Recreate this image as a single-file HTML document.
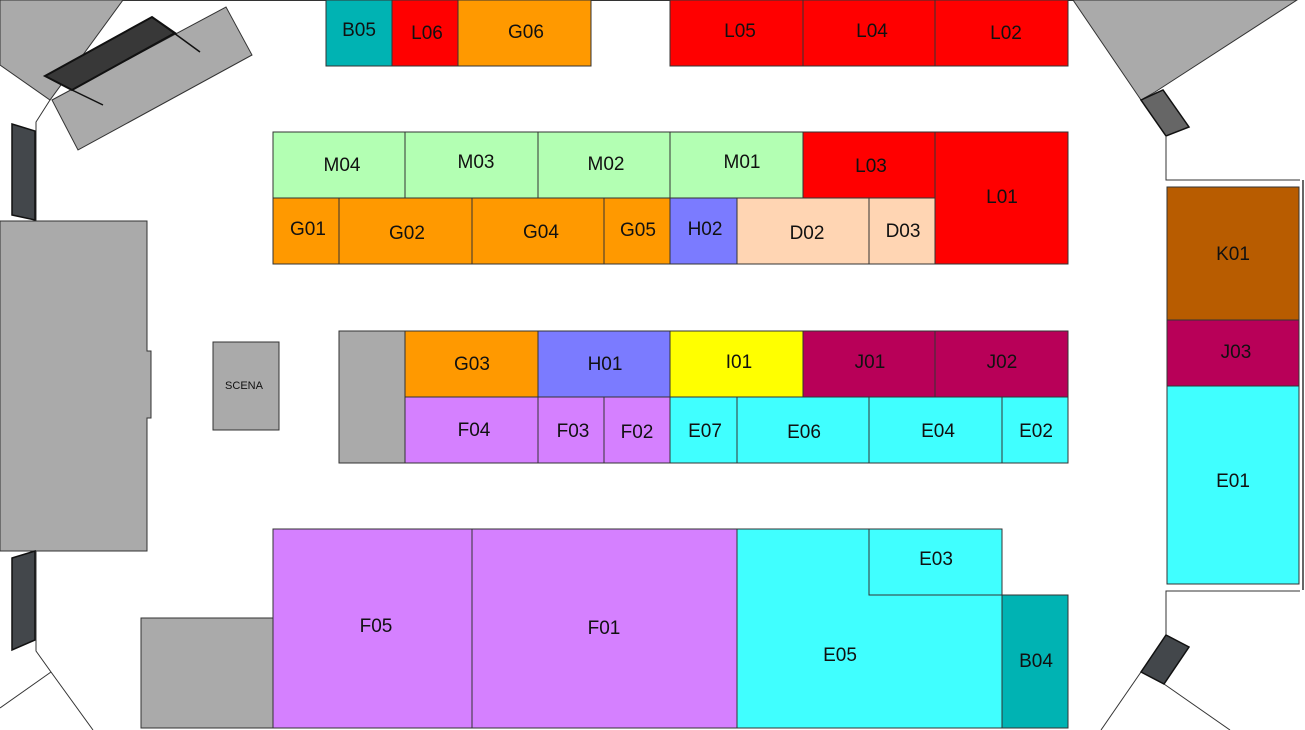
<!DOCTYPE html>
<html><head><meta charset="utf-8"><style>
html,body{margin:0;padding:0;background:#fff;}
svg{display:block;}
text{font-family:"Liberation Sans",sans-serif;font-size:19px;fill:#111;text-anchor:middle;dominant-baseline:middle;}
</style></head><body>
<svg width="1305" height="730" viewBox="0 0 1305 730" xmlns="http://www.w3.org/2000/svg">
<g stroke="#333" stroke-width="1">
<line x1="122" y1="0.5" x2="1073" y2="0.5"/>
<polygon points="0,0 123,0 50,100 0,65" fill="#aaa"/>
<polygon points="52,100 226,7 252,55 78,150" fill="#aaa"/>
<polygon points="45,76 152,17 175,33 72,90" fill="#383838" stroke="#111" stroke-width="2"/>
<line x1="152" y1="17" x2="200" y2="52" stroke="#111" stroke-width="1.5"/>
<line x1="72" y1="90" x2="103" y2="105" stroke="#111" stroke-width="1.5"/>
<polyline points="50,100 36,122 36,221" fill="none"/>
<polygon points="12,124 35,131 35,220 12,215" fill="#43474b" stroke="#111" stroke-width="1.5"/>
<polygon points="0,221 147,221 147,351 151,351 151,418 147,418 147,551 0,551" fill="#aaa"/>
<polygon points="12,558 35,551 35,640 12,650" fill="#43474b" stroke="#111" stroke-width="1.5"/>
<polyline points="36,551 36,651 51,672 93,730" fill="none"/>
<line x1="51" y1="672" x2="0" y2="708"/>
<rect x="213" y="342" width="66" height="88" fill="#aaa"/>
<polygon points="1073,0 1297,0 1155,92 1141,100" fill="#aaa"/>
<polygon points="1141,100 1163,90 1189,127 1166,136" fill="#666" stroke="#111" stroke-width="1.5"/>
<polyline points="1166,136 1166,180 1300,180" fill="none"/>
<line x1="1303" y1="180" x2="1303" y2="590" stroke-width="1.5"/>
<polyline points="1300,591 1166,591 1166,635" fill="none"/>
<polygon points="1166,635 1189,647 1164,684 1141,672" fill="#43474b" stroke="#111" stroke-width="1.5"/>
<line x1="1141" y1="672" x2="1101" y2="730"/>
<line x1="1164" y1="684" x2="1230" y2="730"/>

<rect x="326" y="0" width="66" height="66" fill="#00b3b3"/>
<rect x="392" y="0" width="66" height="66" fill="#ff0000"/>
<rect x="458" y="0" width="133" height="66" fill="#ff9900"/>
<rect x="670" y="0" width="133" height="66" fill="#ff0000"/>
<rect x="803" y="0" width="132" height="66" fill="#ff0000"/>
<rect x="935" y="0" width="133" height="66" fill="#ff0000"/>

<rect x="273" y="132" width="132" height="66" fill="#b3ffb3"/>
<rect x="405" y="132" width="133" height="66" fill="#b3ffb3"/>
<rect x="538" y="132" width="132" height="66" fill="#b3ffb3"/>
<rect x="670" y="132" width="133" height="66" fill="#b3ffb3"/>
<rect x="803" y="132" width="132" height="66" fill="#ff0000"/>
<rect x="935" y="132" width="133" height="132" fill="#ff0000"/>
<rect x="273" y="198" width="66" height="66" fill="#ff9900"/>
<rect x="339" y="198" width="133" height="66" fill="#ff9900"/>
<rect x="472" y="198" width="132" height="66" fill="#ff9900"/>
<rect x="604" y="198" width="66" height="66" fill="#ff9900"/>
<rect x="670" y="198" width="67" height="66" fill="#7b7bff"/>
<rect x="737" y="198" width="132" height="66" fill="#ffd5b3"/>
<rect x="869" y="198" width="66" height="66" fill="#ffd5b3"/>

<rect x="339" y="331" width="66" height="132" fill="#aaa"/>
<rect x="405" y="331" width="133" height="66" fill="#ff9900"/>
<rect x="538" y="331" width="132" height="66" fill="#7b7bff"/>
<rect x="670" y="331" width="133" height="66" fill="#ffff00"/>
<rect x="803" y="331" width="132" height="66" fill="#b80058"/>
<rect x="935" y="331" width="133" height="66" fill="#b80058"/>
<rect x="405" y="397" width="133" height="66" fill="#d580ff"/>
<rect x="538" y="397" width="66" height="66" fill="#d580ff"/>
<rect x="604" y="397" width="66" height="66" fill="#d580ff"/>
<rect x="670" y="397" width="67" height="66" fill="#40ffff"/>
<rect x="737" y="397" width="132" height="66" fill="#40ffff"/>
<rect x="869" y="397" width="133" height="66" fill="#40ffff"/>
<rect x="1002" y="397" width="66" height="66" fill="#40ffff"/>

<rect x="141" y="618" width="132" height="110" fill="#aaa"/>
<rect x="273" y="529" width="199" height="199" fill="#d580ff"/>
<rect x="472" y="529" width="265" height="199" fill="#d580ff"/>
<polygon points="737,529 869,529 869,595 1002,595 1002,728 737,728" fill="#40ffff"/>
<rect x="869" y="529" width="133" height="66" fill="#40ffff"/>
<rect x="1002" y="595" width="66" height="133" fill="#00b3b3"/>

<rect x="1167" y="187" width="132" height="133" fill="#b85c00"/>
<rect x="1167" y="320" width="132" height="66" fill="#b80058"/>
<rect x="1167" y="386" width="132" height="198" fill="#40ffff"/>
</g>
<text x="359" y="31">B05</text><text x="427" y="34">L06</text><text x="526" y="33">G06</text>
<text x="740" y="32">L05</text><text x="872" y="32">L04</text><text x="1006" y="34">L02</text>
<text x="342" y="166">M04</text><text x="476" y="163">M03</text><text x="606" y="165">M02</text><text x="742" y="163">M01</text><text x="871" y="167">L03</text><text x="1002" y="198">L01</text>
<text x="308" y="230">G01</text><text x="407" y="234">G02</text><text x="541" y="233">G04</text><text x="638" y="231">G05</text><text x="705" y="230">H02</text><text x="807" y="234">D02</text><text x="903" y="232">D03</text>
<text x="472" y="365">G03</text><text x="605" y="365">H01</text><text x="739" y="363">I01</text><text x="870" y="363">J01</text><text x="1002" y="363">J02</text>
<text x="474" y="431">F04</text><text x="573" y="432">F03</text><text x="637" y="433">F02</text><text x="705" y="432">E07</text><text x="804" y="433">E06</text><text x="938" y="432">E04</text><text x="1036" y="432">E02</text>
<text x="376" y="627">F05</text><text x="604" y="629">F01</text><text x="936" y="560">E03</text><text x="840" y="656">E05</text><text x="1036" y="662">B04</text>
<text x="1233" y="255">K01</text><text x="1236" y="353">J03</text><text x="1233" y="482">E01</text>
<text x="244" y="386" style="font-size:11px">SCENA</text>
</svg>
</body></html>
